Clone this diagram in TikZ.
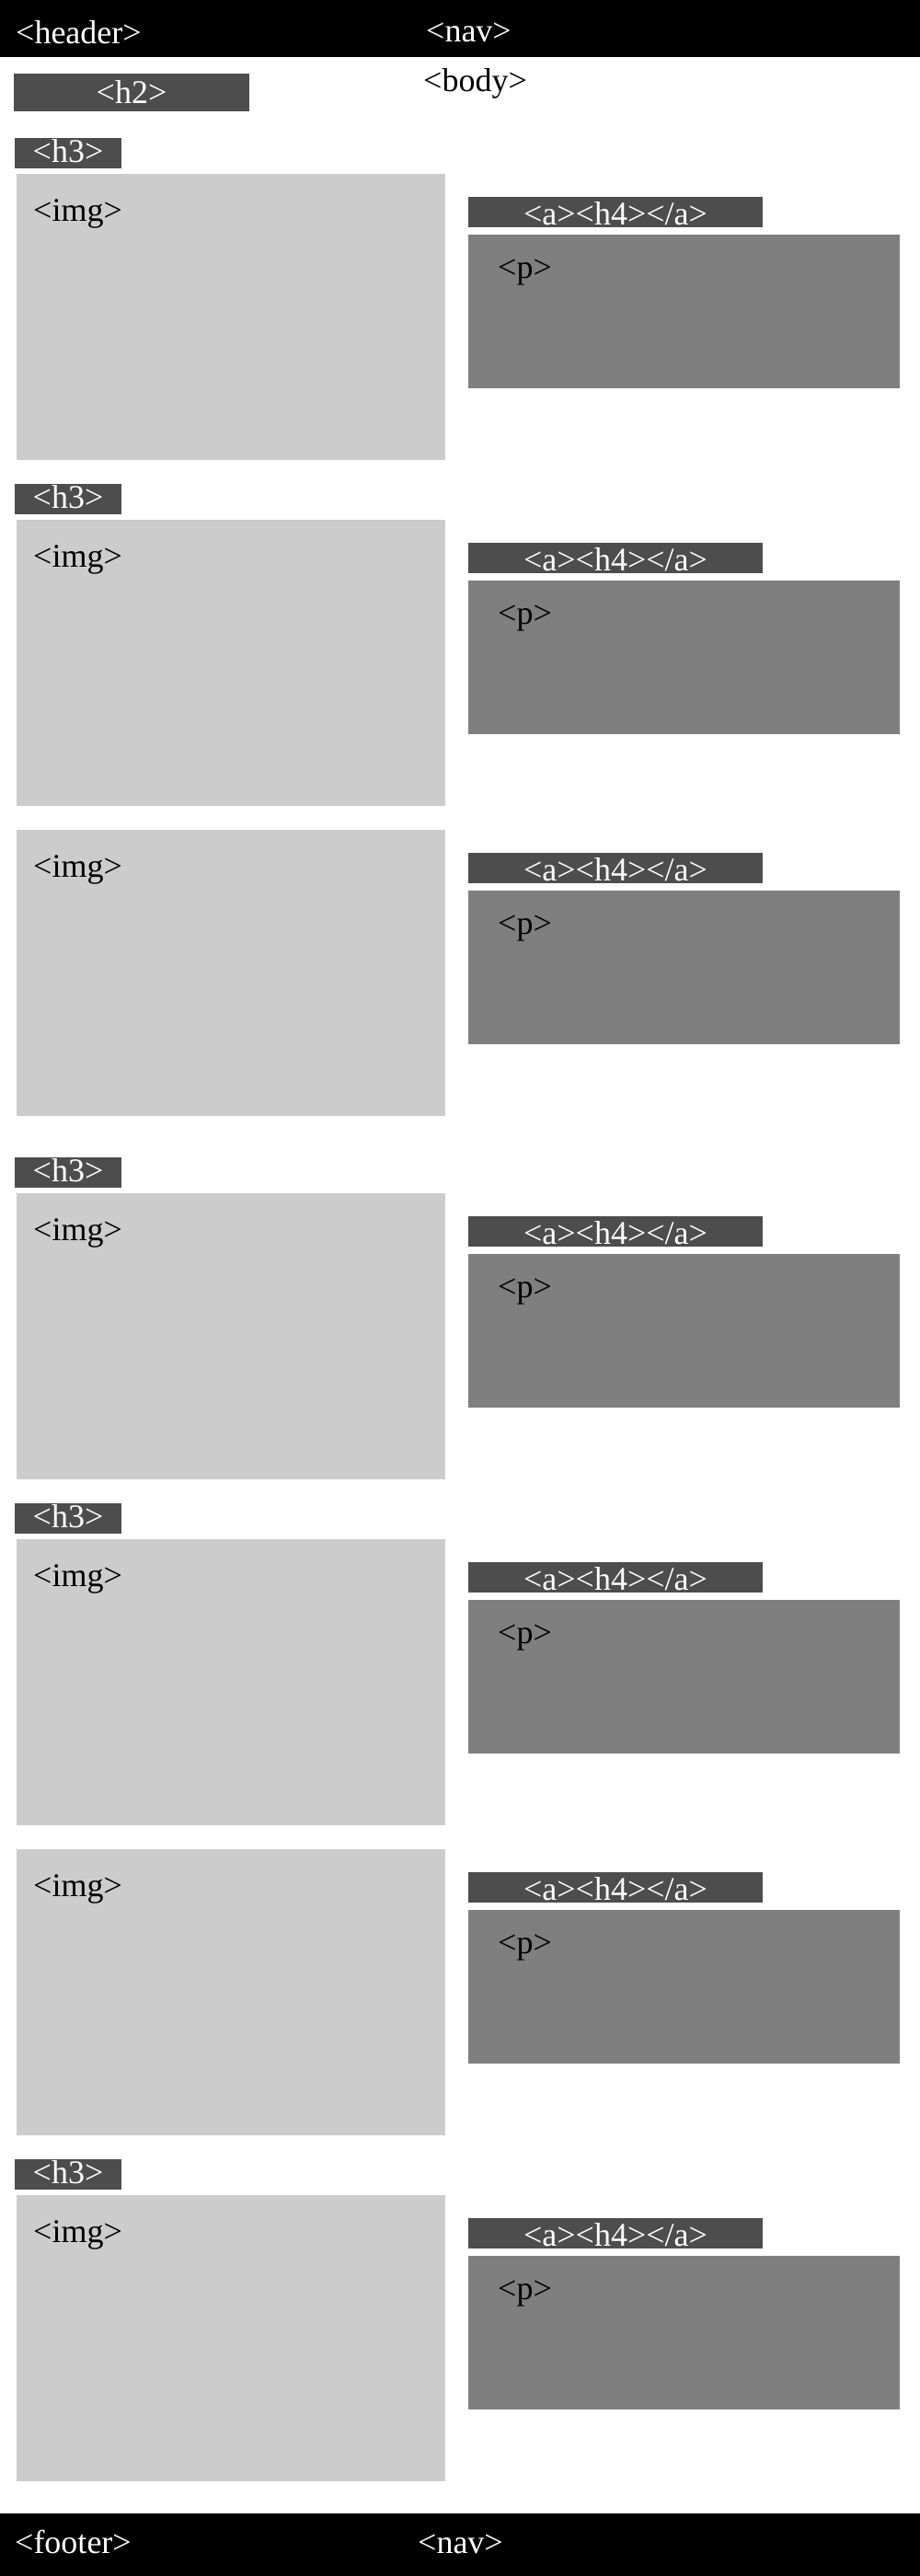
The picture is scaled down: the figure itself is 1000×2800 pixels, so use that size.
\documentclass[tikz,border=0pt]{standalone}
\usepackage{fontspec}
\setmainfont{Liberation Serif}
\definecolor{hdgray}{HTML}{4D4D4D}
\definecolor{imggray}{HTML}{CCCCCC}
\definecolor{pgray}{HTML}{7F7F7F}
\tikzset{
  lbl/.style={inner sep=0pt, anchor=base west, font=\fontsize{36}{40}\selectfont},
  wlbl/.style={lbl, text=white},
  ctrlbl/.style={inner sep=0pt, anchor=base, font=\fontsize{36}{40}\selectfont, text=white}
}
\newcommand\artblock[3]{%
  \ifnum#3=1
    \fill[hdgray] (16,{#2-39}) rectangle (132,{#2-6});
    \node[ctrlbl] (hthree#1) at (74,{#2-13}) {<h3>};
  \fi
  \fill[imggray] (18,#2) rectangle (484,{#2+311});
  \node[lbl] (img#1) at (36,{#2+51}) {<img>};
  \fill[hdgray] (509,{#2+25}) rectangle (829,{#2+58});
  \node[ctrlbl] (hfour#1) at (669,{#2+55}) {<a><h4></a>};
  \fill[pgray] (509,{#2+66}) rectangle (978,{#2+233});
  \node[lbl] (para#1) at (541,{#2+113}) {<p>};
}
\begin{document}
\begin{tikzpicture}[x=1pt, y=-1pt]
  \useasboundingbox (0,0) rectangle (1000,2800);
  \fill[white] (0,0) rectangle (1000,2800);
  % header
  \fill[black] (0,0) rectangle (1000,62);
  \node[wlbl] (header) at (17,47) {<header>};
  \node[wlbl] (navtop) at (463,45) {<nav>};
  % h2 and body
  \fill[hdgray] (15,80) rectangle (271,121);
  \node[ctrlbl] (htwo) at (143,112) {<h2>};
  \node[lbl] (body) at (460,99) {<body>};
  % articles
  \artblock{1}{189}{1}
  \artblock{2}{565}{1}
  \artblock{3}{902}{0}
  \artblock{4}{1297}{1}
  \artblock{5}{1673}{1}
  \artblock{6}{2010}{0}
  \artblock{7}{2386}{1}
  % footer
  \fill[black] (0,2732) rectangle (1000,2800);
  \node[wlbl] (footer) at (16,2775) {<footer>};
  \node[wlbl] (navbottom) at (454,2775) {<nav>};
\end{tikzpicture}
\end{document}
